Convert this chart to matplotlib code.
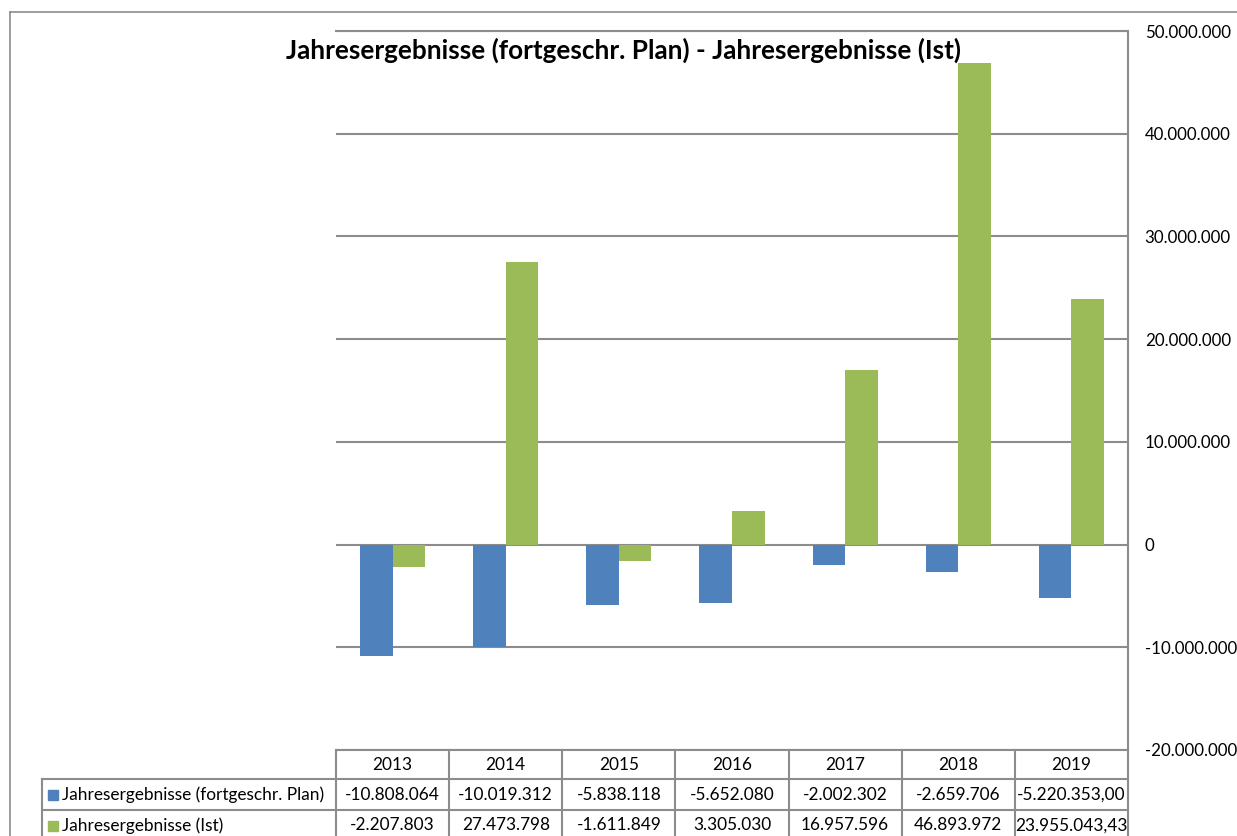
import matplotlib
matplotlib.use("Agg")
import matplotlib.pyplot as plt
from matplotlib.patches import Rectangle
from matplotlib.ticker import FuncFormatter
import numpy as np

plt.rcParams["font.family"] = ["Lato", "DejaVu Sans"]

years = ["2013", "2014", "2015", "2016", "2017", "2018", "2019"]
series_names = ["Jahresergebnisse (fortgeschr. Plan)", "Jahresergebnisse (Ist)"]
plan = [-10808064, -10019312, -5838118, -5652080, -2002302, -2659706, -5220353.00]
ist = [-2207803, 27473798, -1611849, 3305030, 16957596, 46893972, 23955043.43]
decimals = [0, 0, 0, 0, 0, 0, 2]
colors = ["#4F81BD", "#9BBB59"]
title = "Jahresergebnisse (fortgeschr. Plan) - Jahresergebnisse (Ist)"

GRID = "#8c8c8c"
W, H = 1237, 836


def de_fmt(v, nd=0):
    s = f"{v:,.{nd}f}"
    return s.replace(",", "X").replace(".", ",").replace("X", ".")


fig = plt.figure(figsize=(W / 100, H / 100), dpi=100)
fig.patch.set_facecolor("white")

# chart border (outer frame, partly cut off)
fig.add_artist(plt.Line2D([10 / W, 10 / W], [0, 1 - 12 / H], color=GRID, lw=1.2))
fig.add_artist(plt.Line2D([10 / W, 1], [1 - 12 / H, 1 - 12 / H], color=GRID, lw=1.2))

# plot area
px0, px1, py_top, py_bot = 336, 1128, 31, 750
ax = fig.add_axes([px0 / W, 1 - py_bot / H, (px1 - px0) / W, (py_bot - py_top) / H])
x = np.arange(len(years)) + 0.5
bw = 0.288
ax.bar(x - bw / 2, plan, width=bw, color=colors[0], zorder=3)
ax.bar(x + bw / 2, ist, width=bw, color=colors[1], zorder=3)
ax.set_xlim(0, len(years))
ax.set_ylim(-20_000_000, 50_000_000)
ax.set_yticks(np.arange(-20_000_000, 50_000_001, 10_000_000))
ax.yaxis.set_major_formatter(FuncFormatter(lambda v, p: de_fmt(v)))
ax.yaxis.tick_right()
ax.tick_params(axis="y", length=0, pad=12, labelsize=12.2, colors="black")
ax.set_xticks([])
ax.grid(axis="y", color=GRID, lw=1.5, zorder=1)
for side in ("left", "bottom"):
    ax.spines[side].set_visible(False)
for side in ("top", "right"):
    ax.spines[side].set_color(GRID)
    ax.spines[side].set_linewidth(1.5)

fig.text(624 / W, 1 - 50 / H, title, ha="center", va="center",
         fontsize=18.8, fontweight="bold")

# data table below the plot area
tx0 = 42
row_edges = [750, 779, 810, 841]
tab = fig.add_axes([0, 0, 1, 1], facecolor="none")
tab.set_xlim(0, W)
tab.set_ylim(H, 0)
tab.axis("off")
cat_w = (px1 - px0) / len(years)
col_edges = [px0 + i * cat_w for i in range(len(years) + 1)]
lw = 1.5
# horizontal lines
tab.plot([px0, px1], [row_edges[0]] * 2, color=GRID, lw=lw)
for r in row_edges[1:]:
    tab.plot([tx0, px1], [r, r], color=GRID, lw=lw)
# vertical lines
tab.plot([tx0, tx0], [row_edges[1], row_edges[-1]], color=GRID, lw=lw)
for c in col_edges:
    tab.plot([c, c], [row_edges[0], row_edges[-1]], color=GRID, lw=lw)

fs = 12.4
for i, yr in enumerate(years):
    cx = (col_edges[i] + col_edges[i + 1]) / 2
    tab.text(cx, (row_edges[0] + row_edges[1]) / 2, yr, ha="center", va="center", fontsize=fs)
for r, (name, vals, col) in enumerate(zip(series_names, [plan, ist], colors)):
    cy = (row_edges[r + 1] + row_edges[r + 2]) / 2
    tab.add_patch(Rectangle((48, cy - 5), 10, 10, color=col))
    tab.text(62, cy, name, ha="left", va="center", fontsize=fs)
    for i, v in enumerate(vals):
        cx = (col_edges[i] + col_edges[i + 1]) / 2
        tab.text(cx, cy, de_fmt(v, decimals[i]), ha="center", va="center", fontsize=fs)

fig.savefig("out.png", dpi=100, facecolor="white")
